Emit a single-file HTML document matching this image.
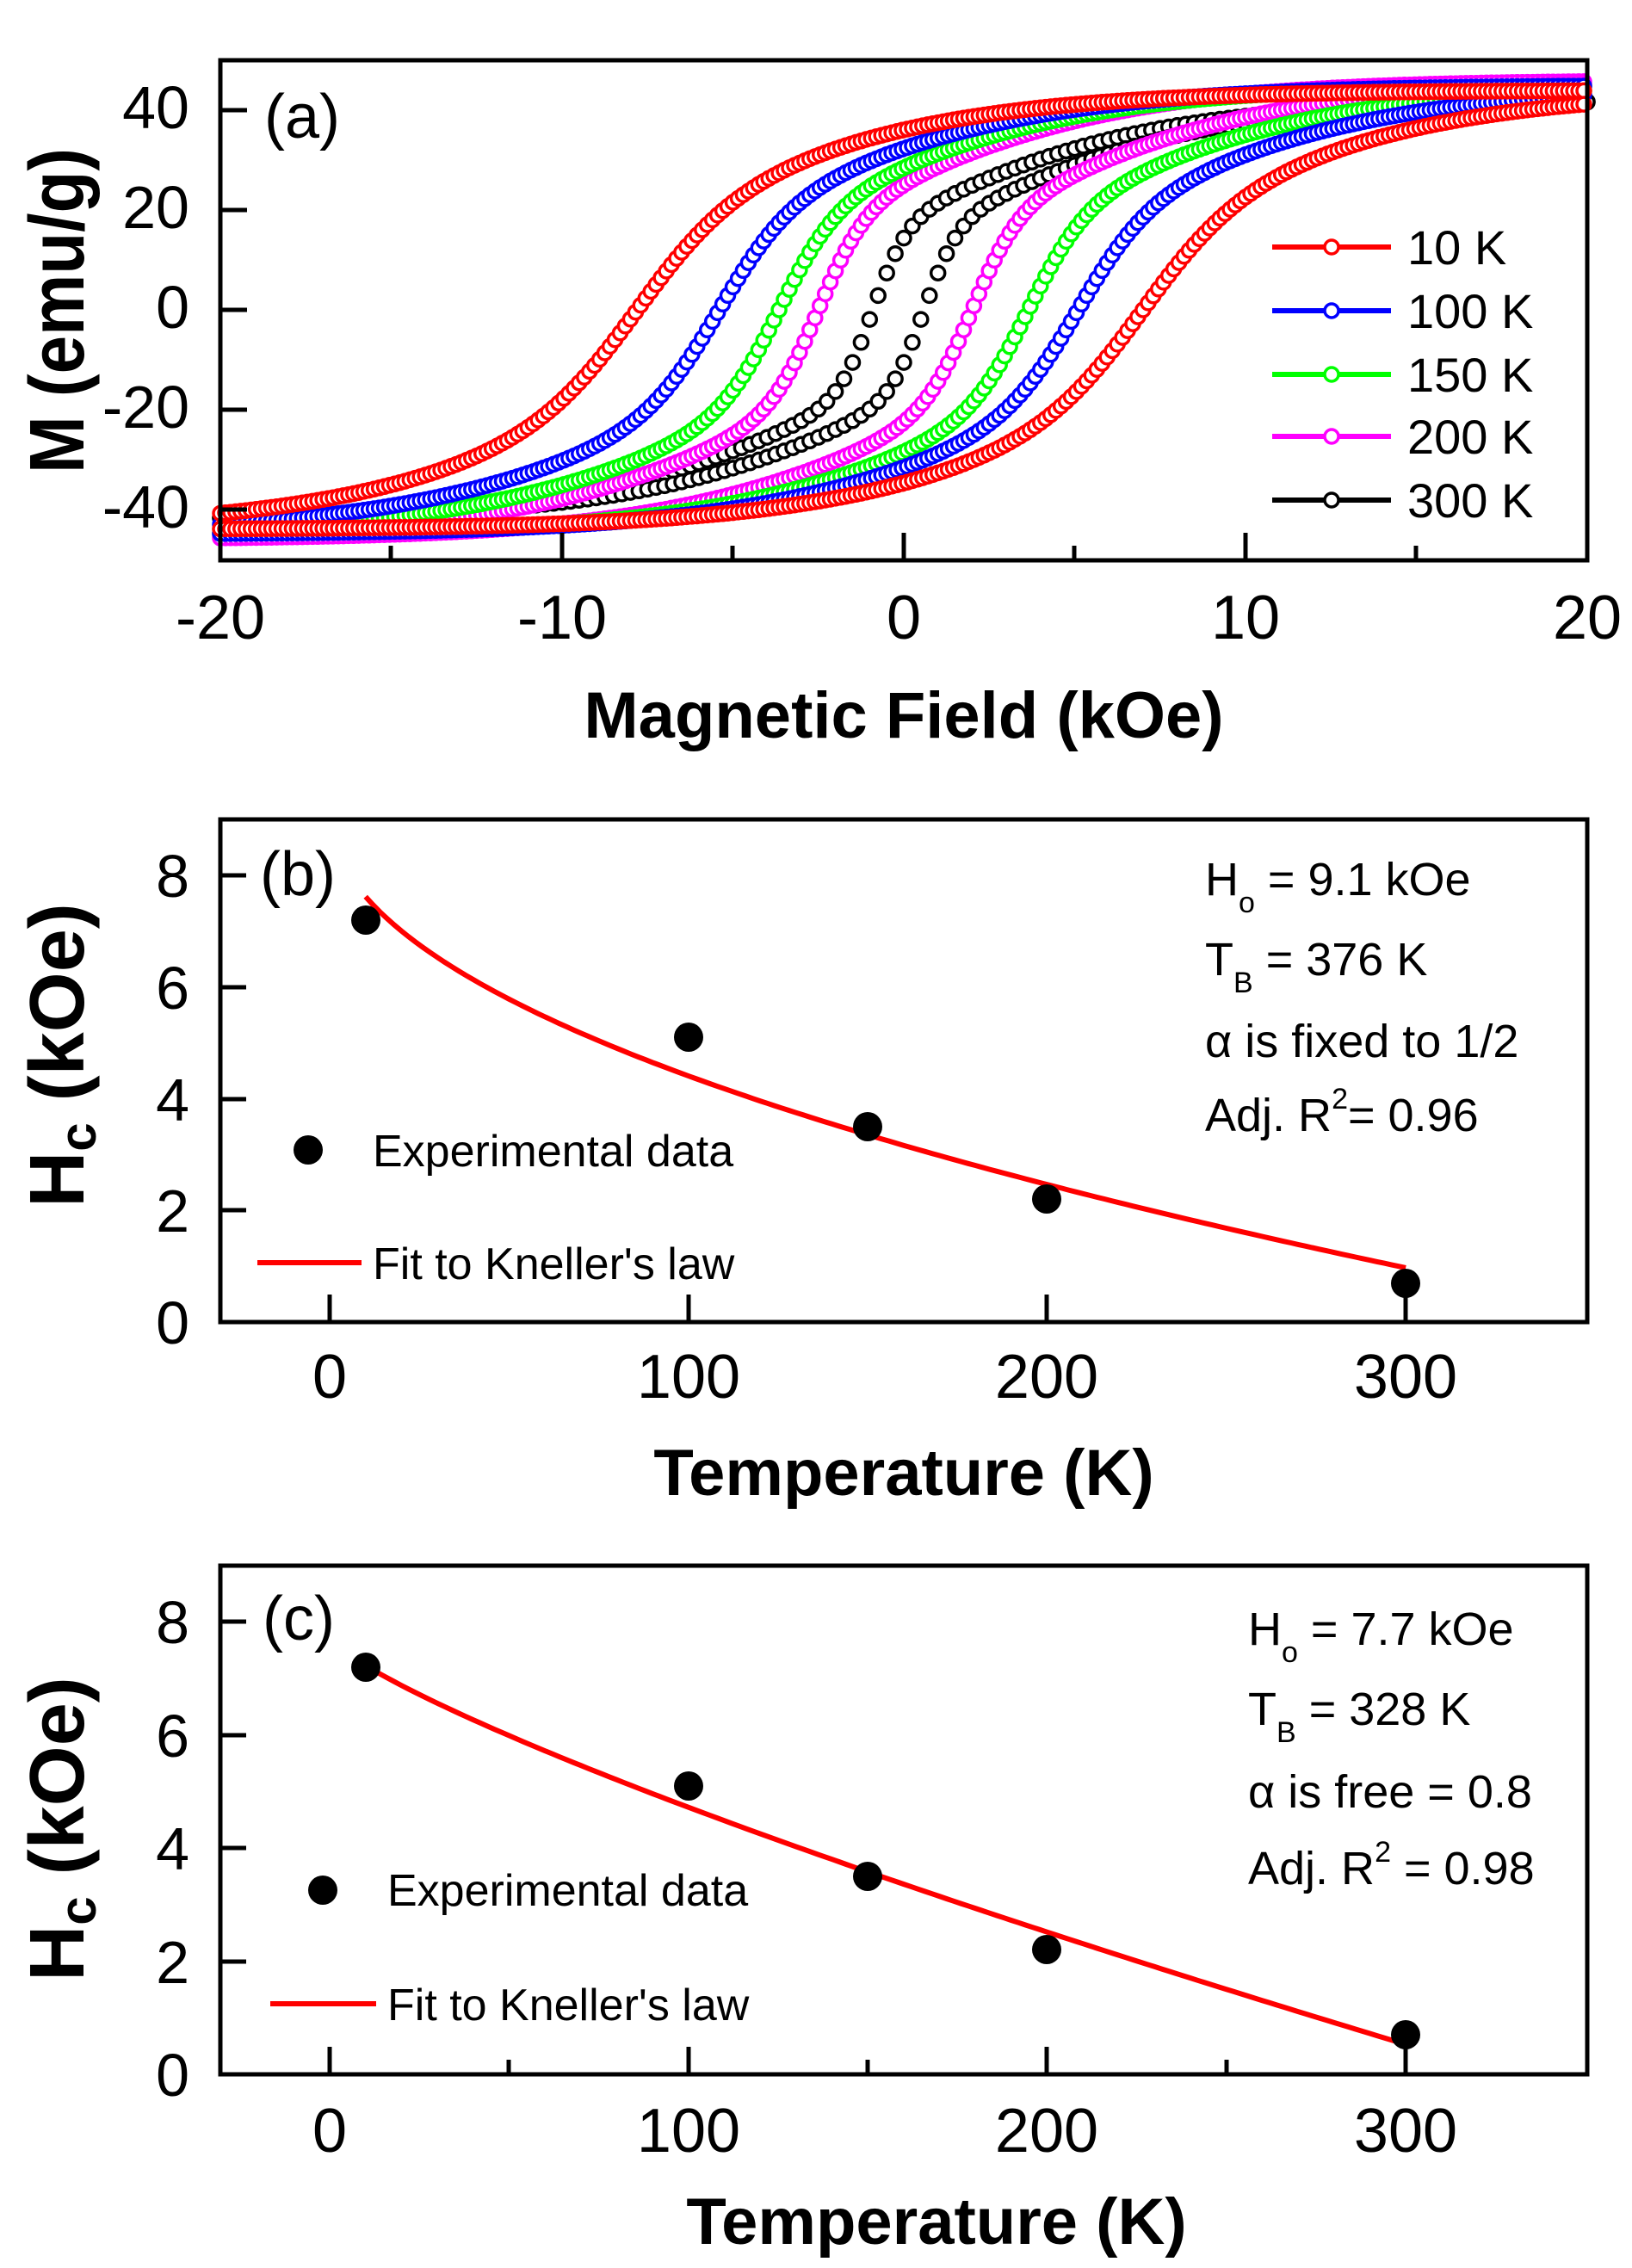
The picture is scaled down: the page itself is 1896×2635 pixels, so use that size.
<!DOCTYPE html>
<html><head><meta charset="utf-8"><style>
html,body{margin:0;padding:0;background:#fff;}
svg{display:block;}
text{font-family:"Liberation Sans",Arial,sans-serif;fill:#000;}
</style></head><body>
<svg id="s" xmlns="http://www.w3.org/2000/svg" width="1896" height="2635" viewBox="0 0 1896 2635">
<rect width="1896" height="2635" fill="#fff"/>
<g id="loops"></g>
<!-- Panel a frame -->
<rect x="256" y="70" width="1588" height="581" fill="none" stroke="#000" stroke-width="5"/>
<g stroke="#000" stroke-width="5">
<line x1="256" y1="128" x2="287" y2="128"/><line x1="256" y1="244" x2="287" y2="244"/>
<line x1="256" y1="360" x2="287" y2="360"/><line x1="256" y1="476" x2="287" y2="476"/>
<line x1="256" y1="592" x2="287" y2="592"/>
<line x1="653" y1="651" x2="653" y2="619"/><line x1="1050" y1="651" x2="1050" y2="619"/>
<line x1="1447" y1="651" x2="1447" y2="619"/>
<line x1="454" y1="651" x2="454" y2="634"/><line x1="851" y1="651" x2="851" y2="634"/>
<line x1="1248" y1="651" x2="1248" y2="634"/><line x1="1645" y1="651" x2="1645" y2="634"/>
</g>
<g font-size="70" text-anchor="end">
<text x="220" y="149">40</text><text x="220" y="265">20</text><text x="220" y="381">0</text>
<text x="220" y="497">-20</text><text x="220" y="613">-40</text>
</g>
<g font-size="72" text-anchor="middle">
<text x="256" y="742">-20</text><text x="653" y="742">-10</text><text x="1050" y="742">0</text>
<text x="1447" y="742">10</text><text x="1844" y="742">20</text>
</g>
<text x="307" y="160" font-size="72">(a)</text>
<text x="1050" y="857" font-size="76" font-weight="bold" text-anchor="middle">Magnetic Field (kOe)</text>
<text transform="translate(97,361) rotate(-90)" font-size="90" font-weight="bold" text-anchor="middle" textLength="378" lengthAdjust="spacingAndGlyphs">M (emu/g)</text>
<g id="lega"></g>
<g font-size="56">
<text x="1635" y="307">10 K</text><text x="1635" y="381">100 K</text><text x="1635" y="455">150 K</text>
<text x="1635" y="527">200 K</text><text x="1635" y="601">300 K</text>
</g>

<!-- Panel b -->
<rect x="256" y="952" width="1588" height="584" fill="none" stroke="#000" stroke-width="5"/>
<g stroke="#000" stroke-width="5">
<line x1="256" y1="1017" x2="286" y2="1017"/><line x1="256" y1="1147" x2="286" y2="1147"/>
<line x1="256" y1="1277" x2="286" y2="1277"/><line x1="256" y1="1406" x2="286" y2="1406"/>
<line x1="383" y1="1536" x2="383" y2="1504"/><line x1="800" y1="1536" x2="800" y2="1504"/>
<line x1="1216" y1="1536" x2="1216" y2="1504"/><line x1="1633" y1="1536" x2="1633" y2="1504"/>
</g>
<g font-size="70" text-anchor="end">
<text x="220" y="1042">8</text><text x="220" y="1172">6</text><text x="220" y="1302">4</text>
<text x="220" y="1431">2</text><text x="220" y="1561">0</text>
</g>
<g font-size="72" text-anchor="middle">
<text x="383" y="1624">0</text><text x="800" y="1624">100</text><text x="1216" y="1624">200</text><text x="1633" y="1624">300</text>
</g>
<text x="302" y="1040" font-size="72">(b)</text>
<text x="1050" y="1737" font-size="76" font-weight="bold" text-anchor="middle">Temperature (K)</text>
<text transform="translate(97,1226) rotate(-90)" font-size="90" font-weight="bold" text-anchor="middle">H<tspan font-size="60" dy="14">c</tspan><tspan dy="-14"> (kOe)</tspan></text>
<path id="fitb" fill="none" stroke="#f00" stroke-width="6"/>
<g fill="#000">
<circle cx="425" cy="1069" r="17"/><circle cx="800" cy="1205" r="17"/><circle cx="1008" cy="1309" r="17"/>
<circle cx="1216" cy="1393" r="17"/><circle cx="1633" cy="1491" r="17"/>
<circle cx="358" cy="1336" r="17"/>
</g>
<line x1="299" y1="1467" x2="420" y2="1467" stroke="#f00" stroke-width="6"/>
<g font-size="52">
<text x="433" y="1355">Experimental data</text>
<text x="433" y="1486">Fit to Kneller's law</text>
</g>
<g font-size="54">
<text x="1400" y="1040">H<tspan font-size="34" dy="20">o</tspan><tspan dy="-20"> = 9.1 kOe</tspan></text>
<text x="1400" y="1133">T<tspan font-size="34" dy="20">B</tspan><tspan dy="-20"> = 376 K</tspan></text>
<text x="1400" y="1228">α is fixed to 1/2</text>
<text x="1400" y="1314">Adj. R<tspan font-size="34" dy="-26">2</tspan><tspan dy="26">= 0.96</tspan></text>
</g>

<!-- Panel c -->
<rect x="256" y="1819" width="1588" height="591" fill="none" stroke="#000" stroke-width="5"/>
<g stroke="#000" stroke-width="5">
<line x1="256" y1="1884" x2="286" y2="1884"/><line x1="256" y1="2016" x2="286" y2="2016"/>
<line x1="256" y1="2147" x2="286" y2="2147"/><line x1="256" y1="2279" x2="286" y2="2279"/>
<line x1="383" y1="2410" x2="383" y2="2378"/><line x1="800" y1="2410" x2="800" y2="2378"/>
<line x1="1216" y1="2410" x2="1216" y2="2378"/><line x1="1633" y1="2410" x2="1633" y2="2378"/>
<line x1="591" y1="2410" x2="591" y2="2393"/><line x1="1008" y1="2410" x2="1008" y2="2393"/>
<line x1="1425" y1="2410" x2="1425" y2="2393"/>
</g>
<g font-size="70" text-anchor="end">
<text x="220" y="1909">8</text><text x="220" y="2041">6</text><text x="220" y="2172">4</text>
<text x="220" y="2304">2</text><text x="220" y="2435">0</text>
</g>
<g font-size="72" text-anchor="middle">
<text x="383" y="2500">0</text><text x="800" y="2500">100</text><text x="1216" y="2500">200</text><text x="1633" y="2500">300</text>
</g>
<text x="305" y="1905" font-size="72">(c)</text>
<text x="1088" y="2607" font-size="76" font-weight="bold" text-anchor="middle">Temperature (K)</text>
<text transform="translate(97,2125) rotate(-90)" font-size="90" font-weight="bold" text-anchor="middle">H<tspan font-size="60" dy="14">c</tspan><tspan dy="-14"> (kOe)</tspan></text>
<path id="fitc" fill="none" stroke="#f00" stroke-width="6"/>
<g fill="#000">
<circle cx="425" cy="1937" r="17"/><circle cx="800" cy="2075" r="17"/><circle cx="1008" cy="2180" r="17"/>
<circle cx="1216" cy="2265" r="17"/><circle cx="1633" cy="2364" r="17"/>
<circle cx="375" cy="2196" r="17"/>
</g>
<line x1="314" y1="2328" x2="437" y2="2328" stroke="#f00" stroke-width="6"/>
<g font-size="52">
<text x="450" y="2214">Experimental data</text>
<text x="450" y="2347">Fit to Kneller's law</text>
</g>
<g font-size="54">
<text x="1450" y="1911">H<tspan font-size="34" dy="20">o</tspan><tspan dy="-20"> = 7.7 kOe</tspan></text>
<text x="1450" y="2004">T<tspan font-size="34" dy="20">B</tspan><tspan dy="-20"> = 328 K</tspan></text>
<text x="1450" y="2100">α is free = 0.8</text>
<text x="1450" y="2189">Adj. R<tspan font-size="34" dy="-26">2</tspan><tspan dy="26"> = 0.98</tspan></text>
</g>
</svg>
<script>
(function(){
function X(h){return 1050+h*39.7;}
function Y(m){return 360-m*5.8;}
function th(x){return Math.tanh(x);}
var curves=[
 {c:"#000",hc:0.75,w1:1.0,w2:8,A:16,ms:42,off:-0.15,step:0.25},
 {c:"#f0f",hc:2.25,w1:1.4,w2:8.5,A:18,ms:46,off:-0.25,step:0.15},
 {c:"#0f0",hc:3.65,w1:1.7,w2:8.5,A:18,ms:45,off:0.0,step:0.15},
 {c:"#00f",hc:5.25,w1:2.1,w2:9,A:18,ms:45,off:-0.15,step:0.15},
 {c:"#f00",hc:7.4,w1:2.8,w2:9,A:18,ms:44,off:-0.4,step:0.15}
];
var out="";
curves.forEach(function(cv){
 for(var br=0;br<2;br++){
  for(var h=-20;h<=20.001;h+=cv.step){
   var u= br==0 ? h+cv.hc-cv.off : h-cv.hc-cv.off;
   var m=cv.A*th(u/cv.w1)+(cv.ms-cv.A)*th(u/cv.w2);
   out+='<circle cx="'+X(h).toFixed(1)+'" cy="'+Y(m).toFixed(1)+'" r="8" fill="#fff" stroke="'+cv.c+'" stroke-width="3.5"/>';
  }
 }
});
document.getElementById("loops").innerHTML=out;
var lo="";
var cols=["#f00","#00f","#0f0","#f0f","#000"],ys=[287,361,435,507,581];
for(var i=0;i<5;i++){
 lo+='<line x1="1478" y1="'+ys[i]+'" x2="1616" y2="'+ys[i]+'" stroke="'+cols[i]+'" stroke-width="6"/>';
 lo+='<circle cx="1547" cy="'+ys[i]+'" r="8" fill="#fff" stroke="'+cols[i]+'" stroke-width="3.5"/>';
}
document.getElementById("lega").innerHTML=lo;
function fit(id,H0,TB,a,y0,sc){
 var d="";
 for(var T=10;T<=300.01;T+=2){
  var v=H0*(1-Math.pow(T/TB,a));
  d+=(T==10?"M":"L")+(383+T*4.167).toFixed(1)+","+(y0-v*sc).toFixed(1);
 }
 document.getElementById(id).setAttribute("d",d);
}
fit("fitb",9.1,376,0.5,1536,64.9);
fit("fitc",7.7,328,0.8,2410,65.7);
})();
</script>
</body></html>
